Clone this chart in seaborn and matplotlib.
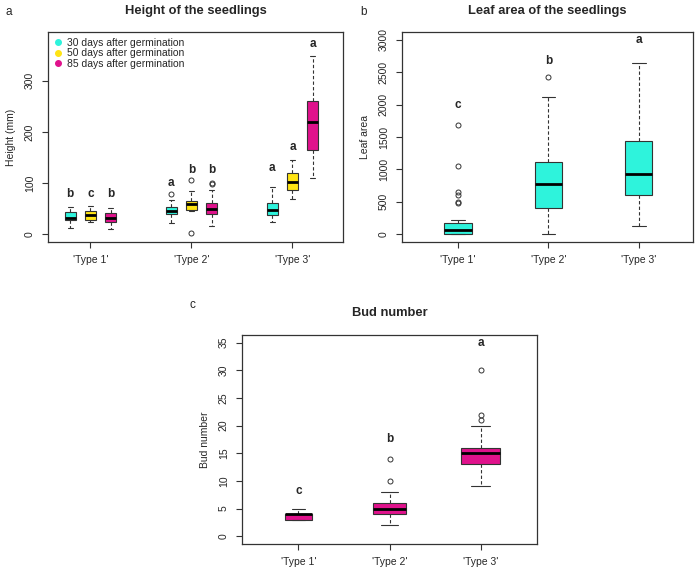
import numpy as np
import pandas as pd
import seaborn as sns
import matplotlib
matplotlib.use("Agg")
import matplotlib.pyplot as plt
from matplotlib.lines import Line2D

# ---------------- data ----------------
types = ["'Type 1'", "'Type 2'", "'Type 3'"]
stages = ["30 days after germination", "50 days after germination", "85 days after germination"]

# Panel a: height (mm); rows = type, cols = stage
height_lo  = [[12, 24, 11], [22, 45, 16], [23, 68, 110]]
height_q1  = [[28, 27, 24], [39, 48, 39], [38, 87, 164]]
height_med = [[32, 37, 31], [45, 60, 50], [48, 102, 219]]
height_q3  = [[44, 45, 42], [54, 64, 61], [61, 120, 260]]
height_hi  = [[53, 55, 51], [67, 85, 87], [92, 145, 348]]
height_out = [[[], [], []], [[79], [3, 105], [98, 100]], [[], [], []]]
height_letters = [["b", "c", "b"], ["a", "b", "b"], ["a", "a", "a"]]
height_letter_y = [[79, 79, 79], [100, 126, 126], [129, 170, 371]]

# Panel b: leaf area
leaf_lo  = [0, 10, 124]
leaf_q1  = [10, 412, 603]
leaf_med = [72, 768, 933]
leaf_q3  = [180, 1108, 1443]
leaf_hi  = [227, 2113, 2639]
leaf_out = [[480, 500, 610, 650, 1045, 1680], [2423], []]
leaf_letters = ["c", "b", "a"]
leaf_letter_y = [1990, 2680, 2995]

# Panel c: bud number
bud_lo  = [3, 2, 9]
bud_q1  = [3, 4, 13]
bud_med = [4, 5, 15]
bud_q3  = [4, 6, 16]
bud_hi  = [5, 8, 20]
bud_out = [[], [10, 14], [21, 22, 30]]
bud_letters = ["c", "b", "a"]
bud_letter_y = [8.1, 17.6, 35]

# ---------------- sample reconstruction ----------------
K = 12


def sample(lo, q1, med, q3, hi, out):
    return [lo] + [q1] * K + [med] * K + [q3] * K + [hi] + list(out)


rows = []
for i, t in enumerate(types):
    for j, s in enumerate(stages):
        for v in sample(height_lo[i][j], height_q1[i][j], height_med[i][j],
                        height_q3[i][j], height_hi[i][j], height_out[i][j]):
            rows.append((t, s, v))
df_height = pd.DataFrame(rows, columns=["type", "stage", "height"])

rows = []
for i, t in enumerate(types):
    for v in sample(leaf_lo[i], leaf_q1[i], leaf_med[i], leaf_q3[i], leaf_hi[i], leaf_out[i]):
        rows.append((t, v))
df_leaf = pd.DataFrame(rows, columns=["type", "leaf"])

rows = []
for i, t in enumerate(types):
    for v in sample(bud_lo[i], bud_q1[i], bud_med[i], bud_q3[i], bud_hi[i], bud_out[i]):
        rows.append((t, v))
df_bud = pd.DataFrame(rows, columns=["type", "bud"])

# ---------------- style ----------------
sns.set_theme(style="ticks")
plt.rcParams["font.family"] = ["Liberation Sans", "DejaVu Sans"]

CYAN = "#2EF3DC"
YELLOW = "#FFE414"
MAGENTA = "#E0128C"
EDGE = "#333333"

TICK_FS = 7.5
TITLE_FS = 9.3
LETTER_FS = 8.5

box_common = dict(
    saturation=1,
    linecolor=EDGE,
    linewidth=0.8,
    whiskerprops=dict(linestyle=(0, (3, 2)), color=EDGE, linewidth=0.8),
    capprops=dict(color=EDGE, linewidth=0.8),
    medianprops=dict(color="black", linewidth=2.0),
    flierprops=dict(marker="o", markersize=3.6, markerfacecolor="none",
                    markeredgecolor=EDGE, markeredgewidth=0.7),
)

fig = plt.figure(figsize=(7.0, 5.72), dpi=100)


def style_axes(ax, title, ylabel, yticks, pad):
    for sp in ax.spines.values():
        sp.set_visible(True)
        sp.set_color(EDGE)
        sp.set_linewidth(0.9)
    ax.set_title(title, fontsize=TITLE_FS, fontweight="bold", pad=pad)
    ax.set_ylabel(ylabel, fontsize=TICK_FS, labelpad=6)
    ax.set_xlabel("")
    ax.set_yticks(yticks)
    ax.set_xticks(range(len(types)))
    ax.set_xticklabels(types)
    ax.tick_params(axis="both", direction="out", length=4.5, width=0.8,
                   color=EDGE, labelsize=TICK_FS, pad=5)
    ax.tick_params(axis="y", labelrotation=90)
    for lab in ax.get_yticklabels():
        lab.set_va("center")
    ax.grid(False)


# ---------- panel a ----------
ax_a = fig.add_axes([48 / 700, 1 - 242 / 572, 295 / 700, 210 / 572])
sns.boxplot(data=df_height, x="type", y="height", hue="stage", order=types,
            hue_order=stages, palette=[CYAN, YELLOW, MAGENTA], width=0.6,
            gap=0.475, legend=False, ax=ax_a, **box_common)
ax_a.set_xlim(-0.42, 2.5)
ax_a.set_ylim(-15.2, 395.2)
style_axes(ax_a, "Height of the seedlings", "Height (mm)", [0, 100, 200, 300], 13)
offsets = [-0.2, 0.0, 0.2]
for i in range(len(types)):
    for j in range(len(stages)):
        ax_a.text(i + offsets[j], height_letter_y[i][j], height_letters[i][j],
                  ha="center", va="center", fontsize=LETTER_FS, fontweight="bold")
handles = [Line2D([], [], marker="o", linestyle="none", markersize=4,
                  markerfacecolor=c, markeredgecolor=c) for c in [CYAN, YELLOW, MAGENTA]]
ax_a.legend(handles, stages, loc="upper left", frameon=False, fontsize=TICK_FS,
            handlelength=0.8, handletextpad=0.5, labelspacing=0.05,
            borderaxespad=0.35, borderpad=0.2)

# ---------- panel b ----------
ax_b = fig.add_axes([402 / 700, 1 - 242 / 572, 291 / 700, 210 / 572])
sns.boxplot(data=df_leaf, x="type", y="leaf", order=types, color=CYAN,
            width=0.3, ax=ax_b, **box_common)
ax_b.set_xlim(-0.62, 2.6)
ax_b.set_ylim(-120, 3120)
style_axes(ax_b, "Leaf area of the seedlings", "Leaf area", list(range(0, 3001, 500)), 13)
for i in range(len(types)):
    ax_b.text(i, leaf_letter_y[i], leaf_letters[i], ha="center", va="center",
              fontsize=LETTER_FS, fontweight="bold")

# ---------- panel c ----------
ax_c = fig.add_axes([242 / 700, 1 - 544 / 572, 295 / 700, 209 / 572])
bud_widths = [0.30, 0.36, 0.43]
for i, t in enumerate(types):
    sub = df_bud[df_bud["type"] == t]
    sns.boxplot(data=sub, x="type", y="bud", order=types, color=MAGENTA,
                width=bud_widths[i], ax=ax_c, **box_common)
ax_c.set_xlim(-0.62, 2.62)
ax_c.set_ylim(-1.4, 36.4)
style_axes(ax_c, "Bud number", "Bud number", list(range(0, 36, 5)), 14)
for i in range(len(types)):
    ax_c.text(i, bud_letter_y[i], bud_letters[i], ha="center", va="center",
              fontsize=LETTER_FS, fontweight="bold")

# panel letters
fig.text(5 / 700, 1 - 12 / 572, "a", fontsize=8.5, va="center", ha="left")
fig.text(360 / 700, 1 - 12 / 572, "b", fontsize=8.5, va="center", ha="left")
fig.text(190 / 700, 1 - 305 / 572, "c", fontsize=8.5, va="center", ha="left")

fig.savefig("out.png", dpi=100, facecolor="white")
